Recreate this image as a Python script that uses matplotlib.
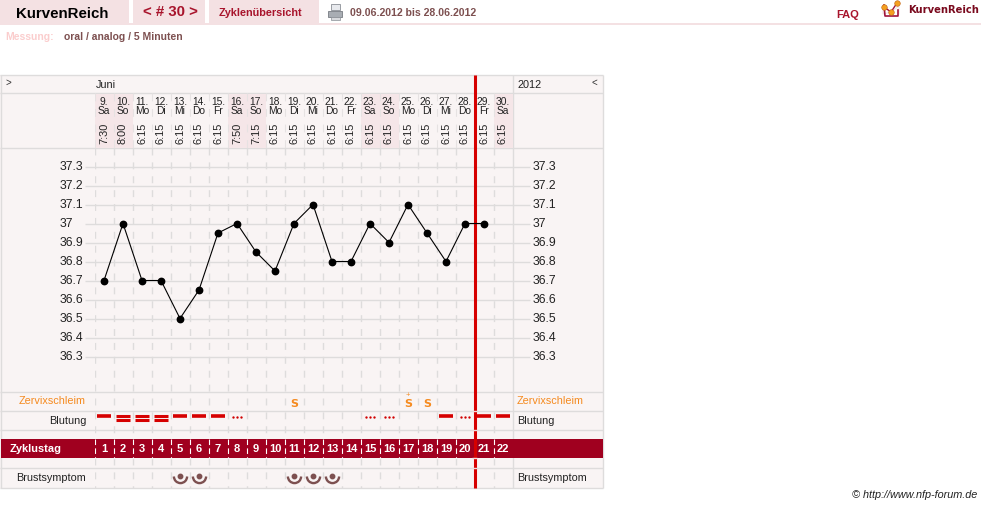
import matplotlib
matplotlib.use("Agg")
import matplotlib.pyplot as plt
from matplotlib.patches import Rectangle, Polygon
from matplotlib.path import Path

W, H = 981, 507
plt.rcParams['font.family'] = ['Liberation Sans', 'DejaVu Sans']

# chart data
cycle_days = list(range(1, 23))
dates = ["9.", "10.", "11.", "12.", "13.", "14.", "15.", "16.", "17.", "18.", "19.",
         "20.", "21.", "22.", "23.", "24.", "25.", "26.", "27.", "28.", "29.", "30."]
weekdays = ["Sa", "So", "Mo", "Di", "Mi", "Do", "Fr", "Sa", "So", "Mo", "Di",
            "Mi", "Do", "Fr", "Sa", "So", "Mo", "Di", "Mi", "Do", "Fr", "Sa"]
times = ["7:30", "8:00", "6:15", "6:15", "6:15", "6:15", "6:15", "7:50", "7:15", "6:15", "6:15",
         "6:15", "6:15", "6:15", "6:15", "6:15", "6:15", "6:15", "6:15", "6:15", "6:15", "6:15"]
temp_days = cycle_days[:21]
temps = [36.7, 37.0, 36.7, 36.7, 36.5, 36.65, 36.95, 37.0, 36.85, 36.75, 37.0,
         37.1, 36.8, 36.8, 37.0, 36.9, 37.1, 36.95, 36.8, 37.0, 37.0]
temp_ticks = [37.3, 37.2, 37.1, 37, 36.9, 36.8, 36.7, 36.6, 36.5, 36.4, 36.3]
shaded_days = [1, 2, 8, 9, 15, 16, 22]
bleed_single = [1, 5, 6, 7, 19, 21, 22]
bleed_double = [2, 3, 4]
bleed_dots = [8, 15, 16, 20]
mucus_s = [11, 17, 18]
mucus_plus = [17]
breast_days = [5, 6, 11, 12, 13]
today_pos = 20.5

PINK = "#f4e1e3"
BG = "#f9f4f4"
GRID = "#dedcdc"
DARK = "#a0001f"
RED = "#a8142c"
BROWN = "#7d5050"
ORANGE = "#f58a1f"
LINE_RED = "#d60000"


def px_axes(x0, y0, x1, y1):
    # axes placed by pixel box, y counted from the top
    return fig.add_axes([x0 / W, 1 - y1 / H, (x1 - x0) / W, (y1 - y0) / H])


fig = plt.figure(figsize=(W / 100, H / 100), dpi=100, facecolor="white")

# page, in pixels
page = px_axes(0, 0, W, H)
page.set_xlim(0, W)
page.set_ylim(H, 0)
page.axis("off")

# top bar
page.add_patch(Rectangle((0, 0), 129, 23, fc=PINK, ec="none"))
page.add_patch(Rectangle((133, 0), 72, 23, fc=PINK, ec="none"))
page.add_patch(Rectangle((209, 0), 110, 23, fc=PINK, ec="none"))
page.add_patch(Rectangle((0, 23), W, 2, fc=PINK, ec="none"))
page.text(16, 13.5, "KurvenReich", fontsize=10.8, fontweight="bold", color="black", va="center")
page.text(143, 12.5, "< # 30 >", fontsize=10.8, fontweight="bold", color=RED, va="center")
page.text(219, 12.5, "Zyklenübersicht", fontsize=7.8, fontweight="bold", color=RED, va="center")
page.text(350, 12.5, "09.06.2012 bis 28.06.2012", fontsize=7.6, fontweight="bold", color=BROWN, va="center")
page.text(5, 36.5, "Messung:", fontsize=7.5, fontweight="bold", color="#fbcdcd", va="center")
page.text(64, 36.5, "oral / analog / 5 Minuten", fontsize=7.5, fontweight="bold", color=BROWN, va="center")
page.text(836, 14.5, "FAQ", fontsize=8, fontweight="bold", color=RED, va="center")
page.text(908, 10, "KurvenReich", fontsize=7.2, fontweight="bold", color="#7a0a1e", va="center",
          family="DejaVu Sans")

# printer icon
page.add_patch(Rectangle((331, 4), 9, 6, fc="#e8eaee", ec="#8a8f96", lw=0.6))
page.add_patch(Polygon([(328, 11), (342, 11), (342, 17), (328, 17)], fc="#a8adb3", ec="#777c82", lw=0.6))
page.add_patch(Rectangle((331, 17), 9, 3, fc="#d8dadd", ec="#8a8f96", lw=0.5))

# logo
page.plot([883, 883, 891, 899, 899], [6, 14, 12, 6, 14], color="#f0e0e0", lw=0.7)
page.plot([884, 885, 898, 898], [5, 16, 16, 10], color="#a0143c", lw=1.2)
page.plot([884, 891, 897], [7, 12, 3], color="#a0143c", lw=1.0)
page.plot([884, 891, 897], [7, 12, 3], ls="none", marker="o", ms=4, mfc="#f4a020", mec="#c06010", mew=0.4)

# table background and frame
page.add_patch(Rectangle((0, 75), 603, 413, fc=BG, ec="none", zorder=0))
page.hlines([75, 93, 148, 392, 411, 430, 468, 488], 0, 603, color=GRID, lw=1, zorder=1)
page.vlines([0.5, 513, 602.5], 75, 488, color=GRID, lw=1, zorder=1)
page.add_patch(Rectangle((1, 439), 602, 19, fc=DARK, ec="none", zorder=2))

page.text(96, 85, "Juni", fontsize=7.8, color="#222222", va="center")
page.text(517, 85, "2012", fontsize=7.8, color="#222222", va="center")
page.text(5, 83, ">", fontsize=7, color="#333333", va="center")
page.text(592, 83, "<", fontsize=7, color="#333333", va="center")

for label, y, col in [("Zervixschleim", 401, ORANGE), ("Blutung", 420.5, "#222222"), ("Brustsymptom", 478, "#222222")]:
    page.text(86, y, label, fontsize=7.8, color=col, ha="right", va="center", zorder=3)
    page.text(517, y, label, fontsize=7.8, color=col, ha="left", va="center", zorder=3)
page.text(10, 449, "Zyklustag", fontsize=7.9, fontweight="bold", color="white", va="center", zorder=3)

for t in temp_ticks:
    y = 167 + (37.3 - t) * 190
    page.text(60, y, str(t), fontsize=8.8, color="#222222", va="center", zorder=3)
    page.text(533, y, str(t), fontsize=8.8, color="#222222", va="center", zorder=3)
    page.hlines(y, 85, 530, color=GRID, lw=1, zorder=1)

page.text(977, 495, "© http://www.nfp-forum.de", fontsize=7.8, fontstyle="italic", color="#222222",
          ha="right", va="center")

# day columns: x is the cycle day, y stays in pixels
days = px_axes(94.5, 0, 512.5, H)
days.set_xlim(0.5, 22.5)
days.set_ylim(H, 0)
days.axis("off")
days.patch.set_alpha(0)

for d in shaded_days:
    days.add_patch(Rectangle((d - 0.5, 93.5), 1, 54, fc="#f5e6e8", ec="none", zorder=1))

edges = [d - 0.5 for d in cycle_days]
days.vlines(edges, 93, 148, color="#e6e2e2", lw=0.8, ls=(0, (7, 7)), zorder=1)
days.vlines(edges, 148, 439, color=GRID, lw=1, ls=(0, (5, 5)), zorder=1)
days.vlines(edges, 439, 458, color="white", lw=0.8, ls=(0, (5, 3)), zorder=3)
days.vlines(edges, 458, 488, color=GRID, lw=1, ls=(0, (5, 5)), zorder=1)

for d, dt, wd, tm in zip(cycle_days, dates, weekdays, times):
    days.text(d, 102, dt, fontsize=7.4, color="#222222", ha="center", va="center", stretch="condensed", zorder=3)
    days.text(d, 111, wd, fontsize=7.4, color="#222222", ha="center", va="center", zorder=3)
    days.text(d, 133, tm, fontsize=7.9, color="#222222", ha="center", va="center", rotation=90, zorder=3)
    days.text(d, 449.5, str(d), fontsize=8, fontweight="bold", color="white", ha="center", va="center", zorder=4)

# today line, the table rules cross it
days.vlines(today_pos, 75, 488, color=LINE_RED, lw=2.2, zorder=5)
days.hlines([411, 430, 458, 468], today_pos - 0.12, today_pos + 0.12, color="#f2dcdc", lw=1, zorder=6)

# bleeding row
days.plot(bleed_single, [416] * len(bleed_single), ls="none", marker="_", ms=10, mew=2.6, color=LINE_RED, zorder=6)
days.plot(bleed_double, [415.5] * len(bleed_double), ls="none", marker="_", ms=10, mew=2.2, color=LINE_RED, zorder=6)
days.plot(bleed_double, [420] * len(bleed_double), ls="none", marker="_", ms=10, mew=2.2, color=LINE_RED, zorder=6)
for d in bleed_dots:
    days.plot([d - 0.2, d, d + 0.2], [416.5] * 3, ls="none", marker="o", ms=1.7, mew=0, color="#d00000", zorder=6)

# mucus row
for d in mucus_s:
    days.text(d, 404, "S", fontsize=8, fontweight="bold", color=ORANGE, ha="center", va="center",
              family="DejaVu Sans", zorder=6)
for d in mucus_plus:
    days.text(d, 395, "+", fontsize=5.5, color=ORANGE, ha="center", va="center", zorder=6)

# breast symptom row
days.plot(breast_days, [475.5] * len(breast_days), ls="none", marker=Path.arc(180, 360), ms=9.5, mfc="none",
          mec=BROWN, mew=1.7, zorder=6)
days.plot(breast_days, [475.5] * len(breast_days), ls="none", marker="o", ms=3.2, color=BROWN, zorder=6)

# temperature curve
ax = px_axes(94.5, 147.5, 512.5, 391.5)
ax.set_xlim(0.5, 22.5)
ax.set_ylim(37.3 - 225 / 190, 37.4)
ax.axis("off")
ax.patch.set_alpha(0)
ax.plot(temp_days, temps, color="black", lw=0.8, marker="o", ms=4.6, zorder=7)

fig.savefig("out.png", dpi=100)
